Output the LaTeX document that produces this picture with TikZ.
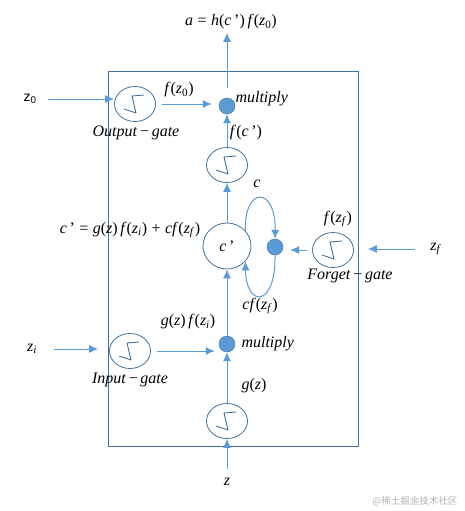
\documentclass[tikz,border=0pt]{standalone}
\usepackage{fontspec}
\setmainfont{Liberation Serif}
\newfontfamily\sansf{Liberation Sans}
\newfontfamily\cjk{Noto Sans CJK SC}
\usepackage{tikz}
\usetikzlibrary{shapes.geometric,arrows.meta}
\definecolor{lineblue}{HTML}{5B9BD5}
\definecolor{edgeblue}{HTML}{41719C}
\newcommand{\vi}[1]{\textit{#1}}
\newcommand{\sub}[1]{\textsubscript{#1}}

\begin{document}
\begin{tikzpicture}[x=1pt,y=-1pt,
  font=\fontsize{16}{19}\selectfont,
  arr/.style={lineblue, line width=1pt, -{Latex[length=9pt,width=8pt]}},
  sig/.style={ellipse, draw=edgeblue, line width=0.8pt, minimum width=41pt,
    minimum height=35pt, inner sep=0pt,
    path picture={\draw[edgeblue, line width=0.9pt, line join=round]
      ([shift={(9pt,9pt)}]path picture bounding box.center)
      -- ++(-12pt,-1pt) -- ++(4pt,-17pt) -- ++(-12pt,4pt);}},
  dot/.style={circle, fill=lineblue, draw=edgeblue, minimum size=16pt, inner sep=0pt}]
\path (0,0) rectangle (464,511);
\draw[edgeblue, line width=0.9pt] (108,71) rectangle (358,446);
%
% gates and cell
\node[sig] (og) at (135,104) {};
\node[sig] (hg) at (227,165) {};
\node[ellipse, draw=edgeblue, line width=0.8pt, minimum width=48pt,
  minimum height=46pt, inner sep=0pt] (cell) at (227,246) {\vi{c}\,'};
\node[sig] (fg) at (333,250) {};
\node[sig] (ig) at (130,351) {};
\node[sig] (gg) at (227,421) {};
%
\node[dot] (mulo) at (227,106) {};
\node[dot] (mulc) at (275,247) {};
\node[dot] (muli) at (227,344) {};
%
% inputs and output
\node[font=\sansf\fontsize{14}{16}\selectfont] (zo) at (30,99) {z\sub{0}};
\node (zf) at (436,249) {\vi{z}\sub{\vi{f}}};
\node (zi) at (32,349) {\vi{z}\sub{\vi{i}}};
\node (zz) at (227,482) {\vi{z}};
\node (aout) at (231,22) {\vi{a}\;=\;\vi{h}(\vi{c}\,')\,\vi{f}(\vi{z}\sub{0})};
%
\draw[arr] ([xshift=8pt]zo.east) -- (og.west |- zo.east);
\draw[arr] ([xshift=6pt]og.east) -- ([xshift=-7pt]mulo.west |- og.east);
\draw[arr] (hg.north) -- (mulo.south);
\draw[arr] ([yshift=10pt]mulo.north) -- (mulo.north |- aout.south);
\draw[arr] (cell.north) -- (hg.south);
\draw[arr] (cell.40) .. controls (244,186) and (276,186) .. (mulc.north);
\draw[arr] (mulc.south) .. controls (276,308) and (246,308) .. (cell.-40);
\draw[arr] ([xshift=-12pt]zf.west) -- ([xshift=14pt]fg.east |- zf.west);
\draw[arr] ([xshift=-5pt]fg.west) -- ([xshift=7pt]mulc.east |- fg.west);
\draw[arr] ([xshift=14pt]zi.east) -- ([xshift=-11pt]ig.west |- zi.east);
\draw[arr] ([xshift=6pt]ig.east) -- ([xshift=-4pt]muli.west |- ig.east);
\draw[arr] (muli.north) -- (cell.south);
\draw[arr] (gg.north) -- (muli.south);
\draw[arr] ([yshift=6pt]zz.north) -- (gg.south);
%
% labels
\node at (179,90) {\vi{f}(\vi{z}\sub{0})};
\node[right] at (232,99) {\vi{multiply}};
\node at (136,133) {\vi{Output}\,−\,\vi{gate}};
\node at (246,133) {\vi{f}(\vi{c}\,')};
\node at (257,184) {\vi{c}};
\node at (130,230) {\vi{c}\,'\;=\;\vi{g}(\vi{z})\,\vi{f}(\vi{z}\sub{\vi{i}})\;+\;\vi{cf}(\vi{z}\sub{\vi{f}})};
\node at (338,219) {\vi{f}(\vi{z}\sub{\vi{f}})};
\node at (350,276) {\vi{Forget}\,−\,\vi{gate}};
\node at (260,306) {\vi{cf}(\vi{z}\sub{\vi{f}})};
\node at (188,322) {\vi{g}(\vi{z})\,\vi{f}(\vi{z}\sub{\vi{i}})};
\node[right] at (238,344) {\vi{multiply}};
\node at (130,380) {\vi{Input}\,−\,\vi{gate}};
\node at (254,386) {\vi{g}(\vi{z})};
\node[gray!60, font=\cjk\fontsize{9.5}{11}\selectfont, anchor=east] at (461,501) {@稀土掘金技术社区};
\end{tikzpicture}
\end{document}
